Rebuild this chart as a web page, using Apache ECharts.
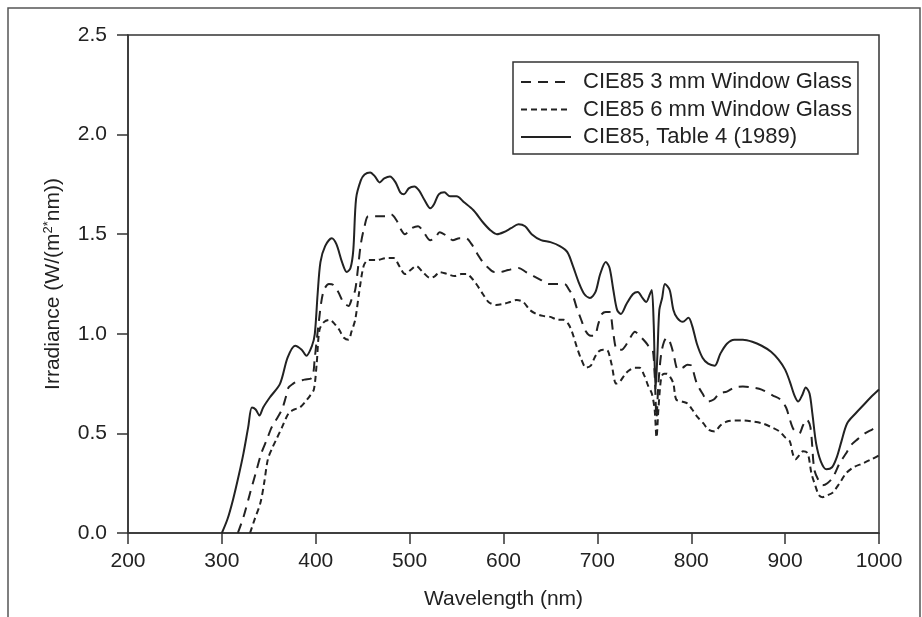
<!DOCTYPE html>
<html>
<head>
<meta charset="utf-8">
<script src="https://cdn.jsdelivr.net/npm/echarts@6/dist/echarts.min.js"></script>
<style>html,body{margin:0;padding:0;background:#fff}#chart{width:922px;height:617px}</style>
</head>
<body>
<div id="chart"></div>
<script>
// CIE85, Table 4 (1989)
const wlTable = [300,306,312,318,323,328,332,336,340,344,351,362,370,378,385,390,396,399,402,405,410,417,422,428,433,437,440,443,448,452,458,463,468,473,479,485,490,494,499,505,510,516,522,526,531,537,543,550,558,568,578,586,593,600,608,616,623,630,640,650,660,668,674,680,686,692,698,703,709,713,717,721,725,731,738,743,748,752,756,758,760,762,764,766,769,772,777,781,785,791,797,801,806,812,818,825,831,838,846,855,865,875,885,893,900,905,910,914,918,922,926,929,933,938,944,950,955,960,966,975,983,991,1000];
const valTable = [0,0.07,0.17,0.29,0.40,0.53,0.63,0.62,0.59,0.63,0.68,0.75,0.88,0.94,0.92,0.89,0.94,1.00,1.20,1.36,1.44,1.48,1.45,1.36,1.31,1.33,1.42,1.68,1.77,1.80,1.81,1.79,1.76,1.78,1.79,1.76,1.71,1.70,1.73,1.74,1.72,1.67,1.63,1.65,1.70,1.71,1.69,1.69,1.66,1.62,1.56,1.52,1.50,1.51,1.53,1.55,1.54,1.50,1.47,1.46,1.44,1.41,1.34,1.26,1.20,1.18,1.21,1.30,1.36,1.33,1.22,1.12,1.10,1.15,1.20,1.21,1.18,1.16,1.20,1.22,1.05,0.72,0.90,1.12,1.18,1.25,1.22,1.12,1.08,1.06,1.08,1.04,0.95,0.88,0.85,0.84,0.90,0.95,0.97,0.97,0.96,0.94,0.91,0.87,0.82,0.76,0.69,0.66,0.69,0.73,0.70,0.60,0.45,0.36,0.32,0.33,0.38,0.46,0.55,0.60,0.64,0.68,0.72];

// CIE85 3 mm Window Glass
const wl3mm = [317,323,330,336,342,348,353,358,364,368,371,376,380,388,396,399,403,408,414,419,424,428,431,435,438,442,445,448,452,456,465,474,480,486,490,495,502,509,515,522,527,532,540,546,553,560,566,571,578,584,590,596,605,616,624,632,640,648,656,665,670,674,678,682,688,693,697,701,705,709,713,717,721,726,730,735,740,745,751,756,759,761,763,765,768,771,774,778,781,786,791,796,800,806,812,818,824,830,838,846,855,865,875,887,895,901,905,909,915,919,923,927,931,935,940,945,951,958,965,970,977,985,993,1000];
const val3mm = [0,0.08,0.20,0.30,0.40,0.47,0.53,0.57,0.62,0.68,0.73,0.75,0.76,0.77,0.78,0.88,1.05,1.21,1.25,1.245,1.21,1.17,1.15,1.14,1.17,1.22,1.33,1.45,1.54,1.59,1.59,1.59,1.60,1.57,1.53,1.50,1.53,1.54,1.51,1.47,1.48,1.51,1.49,1.47,1.48,1.48,1.45,1.41,1.36,1.33,1.31,1.31,1.32,1.33,1.31,1.29,1.27,1.25,1.25,1.25,1.22,1.19,1.13,1.08,1.01,0.99,0.99,1.05,1.10,1.11,1.11,1.00,0.92,0.92,0.94,0.98,1.01,0.99,0.96,0.93,0.92,0.80,0.58,0.75,0.90,0.96,0.98,0.95,0.90,0.82,0.83,0.845,0.84,0.75,0.70,0.66,0.67,0.70,0.71,0.73,0.735,0.73,0.72,0.69,0.67,0.63,0.57,0.52,0.50,0.54,0.57,0.53,0.32,0.27,0.24,0.25,0.28,0.35,0.40,0.44,0.47,0.50,0.52,0.54];

// CIE85 6 mm Window Glass
const wl6mm = [330,335,341,345,349,354,358,364,371,377,383,389,394,398,401,404,409,415,420,425,430,435,438,442,446,451,456,465,475,483,489,495,501,507,514,522,527,532,540,548,555,561,566,571,578,584,592,600,607,614,621,628,635,642,650,658,664,669,673,678,683,688,693,697,701,706,710,715,720,724,730,735,740,745,750,754,758,761,763,765,768,771,774,778,781,784,790,796,801,807,813,818,825,831,838,846,855,865,876,886,894,900,905,908,911,915,919,924,928,932,936,940,945,950,958,965,973,983,992,1000];
const val6mm = [0,0.07,0.15,0.25,0.37,0.43,0.47,0.53,0.60,0.62,0.63,0.66,0.69,0.72,0.85,1.02,1.06,1.07,1.05,1.02,0.98,0.97,1.01,1.07,1.20,1.34,1.37,1.37,1.38,1.38,1.34,1.30,1.32,1.34,1.31,1.28,1.29,1.31,1.30,1.29,1.30,1.30,1.28,1.25,1.20,1.16,1.145,1.15,1.16,1.17,1.16,1.12,1.10,1.09,1.085,1.07,1.07,1.05,1.01,0.935,0.87,0.83,0.84,0.88,0.91,0.92,0.92,0.85,0.75,0.76,0.80,0.82,0.83,0.83,0.79,0.74,0.70,0.62,0.48,0.62,0.78,0.80,0.80,0.78,0.75,0.67,0.66,0.65,0.62,0.58,0.55,0.52,0.51,0.54,0.56,0.565,0.565,0.56,0.55,0.53,0.51,0.48,0.46,0.40,0.37,0.39,0.41,0.40,0.30,0.24,0.19,0.18,0.19,0.20,0.25,0.30,0.33,0.35,0.37,0.39];

const seriesNames = ['CIE85 3 mm Window Glass', 'CIE85 6 mm Window Glass', 'CIE85, Table 4 (1989)'];
const xTicks = {min: 200, max: 1000, step: 100};
const yTicks = {min: 0, max: 2.5, step: 0.5};

const zip = (xs, ys) => xs.map((x, i) => [x, ys[i]]);
const FONT = '"Liberation Sans", Arial, Helvetica, sans-serif';
const INK = '#222';

const chart = echarts.init(document.getElementById('chart'), null, {renderer: 'canvas'});
chart.setOption({
  animation: false,
  backgroundColor: '#fff',
  textStyle: {fontFamily: FONT, color: INK},
  graphic: [{
    type: 'rect', silent: true, z: -1,
    shape: {x: 8, y: 8, width: 912, height: 700},
    style: {fill: 'none', stroke: '#555', lineWidth: 1.5}
  }],
  grid: {left: 128, right: 43, top: 35, bottom: 84, show: true, borderColor: '#333', borderWidth: 1.5},
  legend: {
    orient: 'vertical', left: 513, top: 62,
    padding: [9, 6, 6, 7], itemGap: 5.5,
    itemWidth: 50, itemHeight: 14,
    borderColor: '#333', borderWidth: 1.5,
    itemStyle: {opacity: 0, color: 'transparent', borderWidth: 0},
    textStyle: {fontSize: 22, color: INK, fontFamily: FONT, lineHeight: 22, padding: [0, 0, 0, 7]},
    data: seriesNames
  },
  xAxis: {
    type: 'value', min: xTicks.min, max: xTicks.max, interval: xTicks.step,
    name: 'Wavelength (nm)', nameLocation: 'middle', nameGap: 56,
    nameTextStyle: {fontSize: 21, color: INK, fontFamily: FONT},
    axisLine: {lineStyle: {color: '#333', width: 1.5}},
    axisTick: {length: 11, lineStyle: {color: '#333', width: 1.5}},
    axisLabel: {fontSize: 21, color: INK, margin: 18, fontFamily: FONT, formatter: v => String(v)},
    splitLine: {show: false}
  },
  yAxis: {
    type: 'value', min: yTicks.min, max: yTicks.max, interval: yTicks.step,
    name: 'Irradiance (W/(m{sup|2*}nm))', nameLocation: 'middle', nameGap: 64,
    nameTextStyle: {fontSize: 21, color: INK, fontFamily: FONT,
      rich: {sup: {fontSize: 13, verticalAlign: 'top', padding: [0, 0, 9, 0], color: INK, fontFamily: FONT}}},
    axisLine: {lineStyle: {color: '#333', width: 1.5}},
    axisTick: {length: 11, lineStyle: {color: '#333', width: 1.5}},
    axisLabel: {fontSize: 21, color: INK, margin: 21, fontFamily: FONT, formatter: v => v.toFixed(1)},
    splitLine: {show: false}
  },
  series: [
    {name: seriesNames[0], type: 'line', data: zip(wl3mm, val3mm), symbol: 'none', smooth: 0.3,
     lineStyle: {color: INK, width: 2, type: [10, 7]}, itemStyle: {color: INK}},
    {name: seriesNames[1], type: 'line', data: zip(wl6mm, val6mm), symbol: 'none', smooth: 0.3,
     lineStyle: {color: INK, width: 2, type: [6, 4]}, itemStyle: {color: INK}},
    {name: seriesNames[2], type: 'line', data: zip(wlTable, valTable), symbol: 'none', smooth: 0.3,
     lineStyle: {color: INK, width: 2, type: 'solid'}, itemStyle: {color: INK}}
  ]
});
</script>
</body>
</html>
